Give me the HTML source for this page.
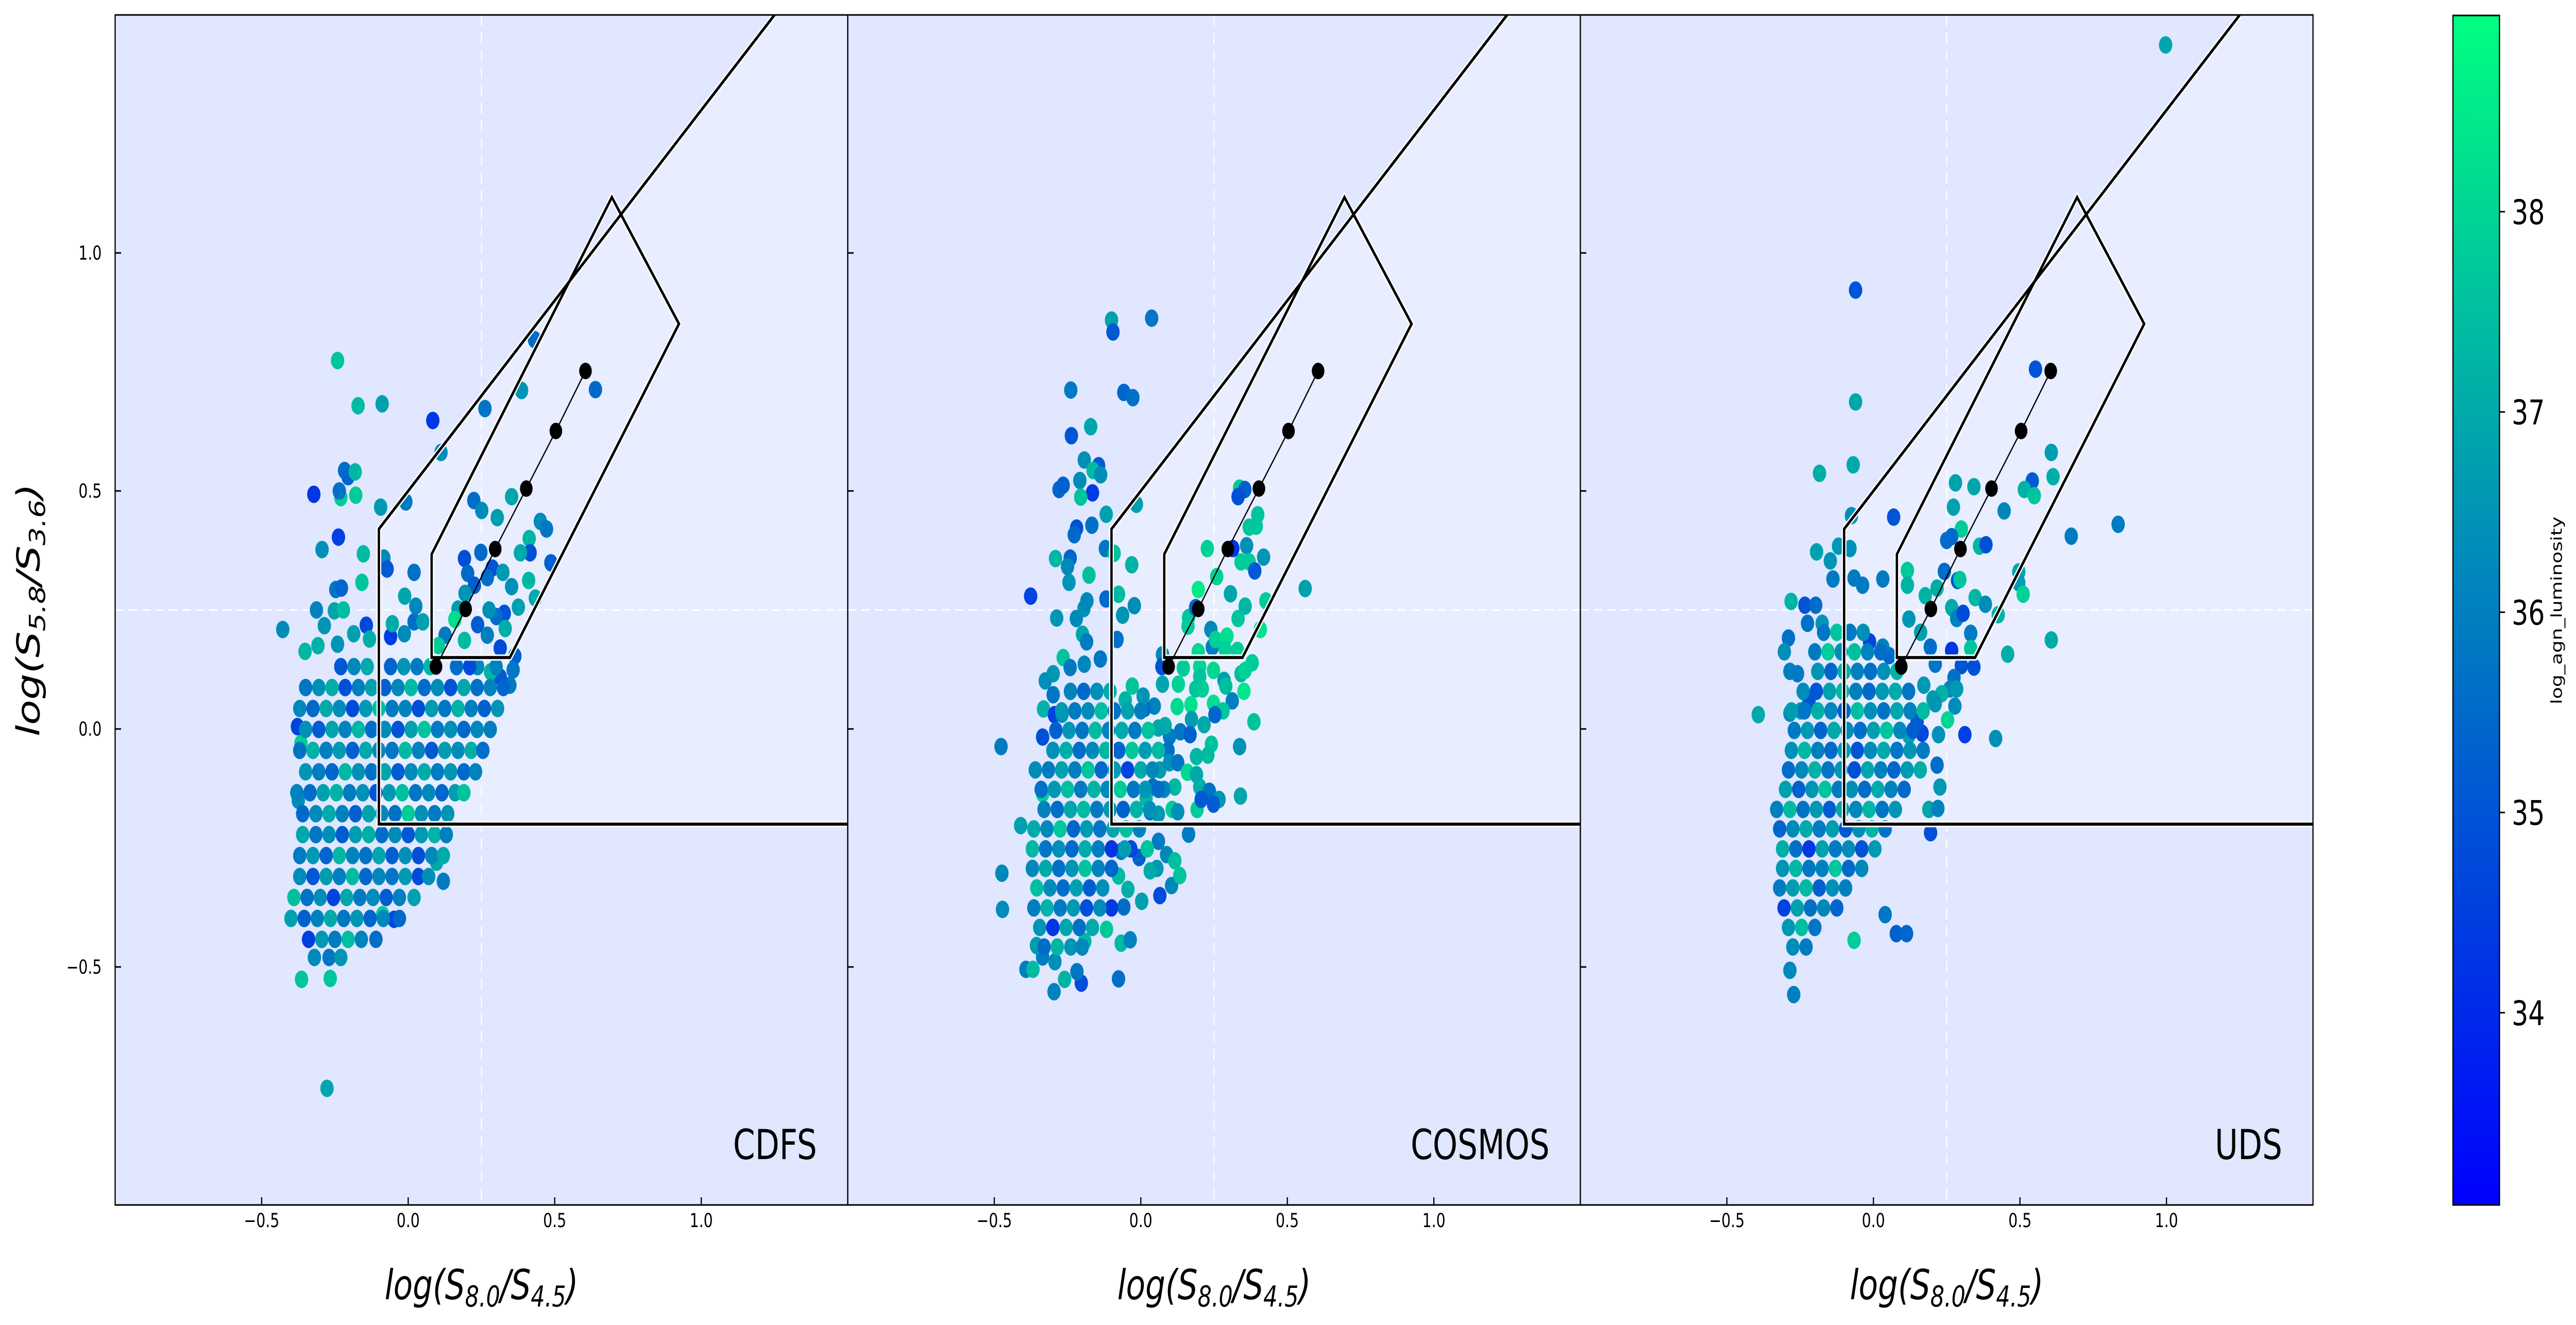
<!DOCTYPE html>
<html><head><meta charset="utf-8"><title>IRAC colour-colour diagram</title>
<style>
html,body{margin:0;padding:0;background:#fff;width:100%;height:100%;overflow:hidden;}
svg{display:block;position:fixed;left:0;top:0;width:100vw;height:100vh;font-family:"DejaVu Sans","Liberation Sans",sans-serif;}
</style></head>
<body>
<svg id="chart" xmlns="http://www.w3.org/2000/svg" viewBox="0 0 6533 2572" preserveAspectRatio="none">
<defs>
<linearGradient id="winter" x1="0" y1="1" x2="0" y2="0">
<stop offset="0" stop-color="rgb(0,0,255)"/><stop offset="1" stop-color="rgb(0,255,128)"/>
</linearGradient>
</defs>
<g id="panels"></g>
<g>
<rect x="6221" y="30" width="118" height="2309" fill="url(#winter)" stroke="#000" stroke-width="3"/>
<g id="cbticks"></g>
<text x="0" y="0" font-size="38" text-anchor="middle" transform="translate(6497,1185) rotate(-90)">log_agn_luminosity</text>
</g>
<text font-size="80" font-style="italic" text-anchor="middle" transform="translate(100,1184) rotate(-90)">log(S<tspan font-size="56" dy="14">5.8</tspan><tspan dy="-14">/S</tspan><tspan font-size="56" dy="14">3.6</tspan><tspan dy="-14">)</tspan></text>
</svg>
<script>
const xTicks = [-0.5, 0.0, 0.5, 1.0];
const xTickLabels = ["\u22120.5", "0.0", "0.5", "1.0"];
const yTicks = [1.0, 0.5, 0.0, -0.5];
const yTickLabels = ["1.0", "0.5", "0.0", "\u22120.5"];
const cbTicks = [34, 35, 36, 37, 38];
const cbRange = [33.04, 38.98];
const xRange = [-1, 1.5];
const yRange = [-1, 1.5];
const panelNames = ["CDFS", "COSMOS", "UDS"];
const lacyPoly = [[-0.1,-0.2],[-0.1,0.42],[1.25,1.5],[1.5,1.5],[1.5,-0.2]];
const donleyPoly = [[0.08,0.15],[0.08,0.367],[0.695,1.117],[0.924,0.851],[0.347,0.15]];
const trackX = [0.095,0.196,0.297,0.403,0.504,0.605];
const trackY = [0.131,0.252,0.378,0.505,0.626,0.752];

const cdfsData = [
[-0.241,0.774,37.6],[-0.171,0.679,37.4],[-0.089,0.683,36.8],[0.084,0.648,34.3],[0.112,0.581,36.3],[0.262,0.673,35.8],[0.387,0.711,36.5],[0.431,0.818,35.6],[0.639,0.713,35.5],[-0.217,0.543,35.6],[-0.205,0.53,35.4],[-0.181,0.54,37.3],[-0.322,0.493,34.3],[-0.23,0.486,37.8],[-0.235,0.5,35.7],[-0.179,0.491,37.8],[-0.094,0.466,36.6],[-0.008,0.477,35.9],[-0.238,0.403,34.5],[-0.294,0.377,36.4],[-0.153,0.368,37.4],[-0.158,0.308,37.6],[-0.083,0.359,36.2],[-0.072,0.336,35.1],[0.02,0.329,35.7],[-0.247,0.293,35.8],[-0.228,0.296,35.4],[-0.012,0.279,36.9],[-0.313,0.25,36.1],[-0.252,0.248,36.9],[-0.221,0.25,37.5],[-0.428,0.209,36.3],[-0.352,0.163,37.3],[-0.308,0.175,37.2],[-0.286,0.217,36.5],[-0.241,0.178,36.5],[-0.186,0.2,36.8],[-0.143,0.218,34.7],[-0.132,0.189,37.1],[-0.06,0.194,34.4],[-0.013,0.2,36.3],[-0.054,0.221,37.0],[0.02,0.225,35.6],[0.026,0.258,36.2],[0.05,0.225,36.8],
[0.224,0.48,35.6],[0.251,0.459,36.3],[0.304,0.444,36.7],[0.353,0.488,36.9],[0.451,0.436,36.3],[0.472,0.42,35.8],[0.413,0.4,37.3],[0.416,0.37,34.9],[0.383,0.37,37.0],[0.487,0.349,35.3],[0.411,0.312,37.3],[0.434,0.275,37.0],[0.192,0.358,34.9],[0.248,0.371,35.5],[0.287,0.338,35.0],[0.323,0.329,36.6],[0.353,0.299,36.4],[0.376,0.256,36.8],[0.203,0.327,35.5],[0.226,0.302,35.2],[0.27,0.318,35.6],[0.194,0.285,36.5],[0.328,0.243,35.0],[0.301,0.236,35.6],[0.276,0.25,36.4],[0.17,0.252,36.7],[0.159,0.23,38.2],[0.237,0.219,35.2],[0.27,0.197,36.0],[0.331,0.211,37.1],[0.314,0.17,34.8],[0.126,0.197,35.9],[0.103,0.175,37.8],[0.192,0.186,37.4],[0.364,0.153,35.3],[0.358,0.124,35.8],[0.347,0.092,35.9],[0.314,0.109,35.1],[0.281,0.12,37.2],[0.237,0.131,36.3],
[-0.364,-0.526,37.6],[-0.266,-0.524,37.6],[-0.277,-0.755,36.9],[-0.375,-0.15,36.3],[-0.366,-0.03,37.9],[-0.378,0.005,34.6],[0.12,-0.32,35.9],[0.097,-0.28,36.9],[-0.087,-0.39,37.8],[-0.048,-0.4,34.7],
[-0.23,0.131,35.1],[-0.185,0.131,36.2],[-0.14,0.131,37.0],[-0.06,0.131,35.4],[-0.015,0.131,36.5],[0.03,0.131,35.9],[0.075,0.131,37.3],[0.165,0.131,35.6],[0.21,0.131,34.8],[0.3,0.131,36.1],
[-0.35,0.087,35.8],[-0.305,0.087,36.4],[-0.26,0.087,37.1],[-0.215,0.087,34.9],[-0.17,0.087,36.0],[-0.125,0.087,36.8],[-0.08,0.087,35.3],[-0.035,0.087,36.2],[0.01,0.087,37.4],[0.055,0.087,35.6],[0.1,0.087,36.3],[0.145,0.087,35.0],[0.19,0.087,36.9],[0.235,0.087,35.7],[0.28,0.087,36.1],[0.325,0.087,35.4],
[-0.37,0.043,36.2],[-0.325,0.043,35.5],[-0.28,0.043,37.0],[-0.235,0.043,36.3],[-0.19,0.043,34.8],[-0.145,0.043,36.6],[-0.1,0.043,37.5],[-0.055,0.043,35.9],[-0.01,0.043,36.1],[0.035,0.043,34.9],[0.08,0.043,36.7],[0.125,0.043,35.8],[0.17,0.043,37.2],[0.215,0.043,36.0],[0.26,0.043,35.3],[0.305,0.043,36.5],
[-0.35,-0.001,36.4],[-0.305,-0.001,35.2],[-0.26,-0.001,36.9],[-0.215,-0.001,36.1],[-0.17,-0.001,37.3],[-0.125,-0.001,35.6],[-0.08,-0.001,36.3],[-0.035,-0.001,35.0],[0.01,-0.001,36.8],[0.055,-0.001,37.6],[0.1,-0.001,35.9],[0.145,-0.001,36.4],[0.19,-0.001,35.5],[0.235,-0.001,36.2],[0.28,-0.001,36.0],
[-0.37,-0.045,35.7],[-0.325,-0.045,37.2],[-0.28,-0.045,36.0],[-0.235,-0.045,36.6],[-0.19,-0.045,35.3],[-0.145,-0.045,37.0],[-0.1,-0.045,36.2],[-0.055,-0.045,35.8],[-0.01,-0.045,37.4],[0.035,-0.045,36.1],[0.08,-0.045,35.1],[0.125,-0.045,36.7],[0.17,-0.045,36.3],[0.215,-0.045,37.1],[0.255,-0.045,35.6],
[-0.35,-0.09,36.5],[-0.305,-0.09,36.0],[-0.26,-0.09,35.4],[-0.215,-0.09,37.3],[-0.17,-0.09,36.4],[-0.125,-0.09,35.7],[-0.08,-0.09,36.9],[-0.035,-0.09,35.2],[0.01,-0.09,36.3],[0.055,-0.09,37.0],[0.1,-0.09,35.9],[0.145,-0.09,36.5],[0.19,-0.09,35.5],[0.23,-0.09,36.1],
[-0.38,-0.134,36.1],[-0.335,-0.134,35.6],[-0.29,-0.134,36.8],[-0.245,-0.134,37.2],[-0.2,-0.134,35.9],[-0.155,-0.134,36.4],[-0.11,-0.134,35.0],[-0.065,-0.134,36.6],[-0.02,-0.134,37.5],[0.025,-0.134,35.8],[0.07,-0.134,36.2],[0.115,-0.134,35.4],[0.16,-0.134,36.7],[0.19,-0.134,37.6],
[-0.36,-0.178,35.5],[-0.315,-0.178,36.3],[-0.27,-0.178,37.0],[-0.225,-0.178,36.0],[-0.18,-0.178,35.3],[-0.135,-0.178,36.8],[-0.09,-0.178,36.2],[-0.045,-0.178,35.7],[0.0,-0.178,37.8],[0.045,-0.178,36.4],[0.09,-0.178,35.9],[0.135,-0.178,36.5],
[-0.36,-0.222,36.9],[-0.315,-0.222,35.8],[-0.27,-0.222,36.4],[-0.225,-0.222,35.2],[-0.18,-0.222,36.7],[-0.135,-0.222,37.1],[-0.09,-0.222,35.6],[-0.045,-0.222,36.3],[0.0,-0.222,35.1],[0.045,-0.222,36.6],[0.09,-0.222,37.2],[0.13,-0.222,36.0],
[-0.37,-0.266,35.9],[-0.325,-0.266,36.6],[-0.28,-0.266,35.4],[-0.235,-0.266,37.3],[-0.19,-0.266,36.1],[-0.145,-0.266,35.7],[-0.1,-0.266,36.9],[-0.055,-0.266,35.3],[-0.01,-0.266,36.4],[0.035,-0.266,34.9],[0.08,-0.266,36.2],[0.12,-0.266,37.0],
[-0.37,-0.31,36.3],[-0.325,-0.31,35.1],[-0.28,-0.31,36.7],[-0.235,-0.31,36.0],[-0.19,-0.31,37.4],[-0.145,-0.31,35.5],[-0.1,-0.31,36.2],[-0.055,-0.31,35.8],[-0.01,-0.31,36.6],[0.035,-0.31,34.8],[0.07,-0.31,36.4],
[-0.39,-0.354,37.5],[-0.345,-0.354,35.7],[-0.3,-0.354,36.4],[-0.255,-0.354,34.6],[-0.21,-0.354,36.9],[-0.165,-0.354,35.9],[-0.12,-0.354,36.3],[-0.075,-0.354,35.2],[-0.03,-0.354,36.0],[0.02,-0.354,36.8],
[-0.4,-0.398,36.8],[-0.355,-0.398,35.3],[-0.31,-0.398,36.1],[-0.265,-0.398,37.0],[-0.22,-0.398,35.8],[-0.175,-0.398,36.5],[-0.13,-0.398,35.4],[-0.085,-0.398,36.2],[-0.03,-0.398,35.5],
[-0.34,-0.442,34.5],[-0.295,-0.442,36.6],[-0.25,-0.442,35.9],[-0.205,-0.442,37.5],[-0.16,-0.442,36.1],[-0.11,-0.442,35.6],
[-0.32,-0.48,36.2],[-0.27,-0.48,35.8],[-0.23,-0.48,36.5]
];

const cosmosData = [
[-0.1,0.859,36.8],[-0.095,0.834,35.1],[0.037,0.863,35.8],[-0.239,0.712,35.9],[-0.058,0.707,35.4],[-0.027,0.696,35.7],[-0.237,0.616,35.0],[-0.171,0.635,36.9],[-0.193,0.565,36.4],[-0.144,0.553,35.2],[-0.163,0.543,37.4],[-0.137,0.534,36.4],[-0.279,0.503,35.4],[-0.265,0.512,35.3],[-0.208,0.522,36.3],[-0.165,0.496,34.4],[-0.205,0.487,37.6],[-0.015,0.472,36.8],[-0.118,0.451,36.8],[-0.219,0.422,34.9],[-0.227,0.408,35.5],[-0.167,0.428,35.7],[-0.291,0.358,37.3],[-0.241,0.359,35.4],[-0.25,0.341,36.2],[-0.245,0.308,36.5],[-0.177,0.323,37.5],[-0.121,0.379,35.8],[-0.091,0.369,37.6],[-0.031,0.345,37.2],[-0.376,0.279,34.6],[-0.287,0.233,36.5],[-0.22,0.232,36.2],[-0.194,0.253,36.4],[-0.184,0.269,36.2],[-0.119,0.273,35.5],[-0.076,0.283,37.4],[-0.062,0.239,36.5],[-0.022,0.259,36.3],[-0.199,0.199,36.9],[-0.185,0.183,35.9],[-0.081,0.188,35.7],[-0.138,0.147,35.8],[-0.265,0.15,37.6],[-0.299,0.116,36.6],[-0.326,0.101,36.4],[-0.193,0.136,36.2],[-0.241,0.129,35.9],
[0.337,0.506,37.8],[0.355,0.503,35.3],[0.332,0.488,34.9],[0.399,0.45,37.6],[0.37,0.424,37.6],[0.394,0.426,37.7],[0.361,0.385,36.4],[0.419,0.361,36.5],[0.342,0.351,37.8],[0.37,0.351,37.8],[0.389,0.332,35.1],[0.314,0.379,34.3],[0.227,0.379,37.9],[0.259,0.32,37.9],[0.196,0.293,38.5],[0.306,0.284,36.9],[0.356,0.258,37.3],[0.332,0.232,37.6],[0.427,0.269,37.8],[0.408,0.209,38.3],[0.561,0.295,36.8],[0.163,0.234,37.6],[0.161,0.216,37.8],[0.187,0.255,35.4],[0.239,0.209,36.2],[0.244,0.172,35.9],[0.255,0.188,37.9],[0.294,0.195,38.2],[0.288,0.167,37.9],[0.33,0.165,37.8],[0.196,0.162,38.0],
[0.074,0.156,36.2],[0.072,0.131,35.0],[0.145,0.128,37.8],[0.074,0.094,36.9],[0.128,0.094,37.9],[0.201,0.131,38.0],[0.201,0.11,37.6],[0.248,0.123,38.1],[0.284,0.102,36.8],[0.342,0.116,37.4],[0.38,0.139,37.8],[0.356,0.123,37.9],[0.187,0.084,37.6],[0.21,0.084,37.8],[0.29,0.09,37.5],[0.352,0.079,38.4],[0.312,0.059,36.0],[0.248,0.054,38.2],[0.281,0.038,37.7],[0.253,0.03,35.4],[0.171,0.051,38.3],[0.124,0.047,38.1],[0.046,0.048,36.1],[0.013,0.043,35.6],[0.008,0.069,36.5],[-0.053,0.061,37.2],[-0.029,0.09,37.6],[0.173,0.02,36.7],[0.216,0.009,37.0],[0.386,0.015,37.6],[0.135,-0.006,35.8],[0.168,-0.012,35.3],[0.241,-0.032,37.6],[0.229,-0.055,37.4],[0.19,-0.058,37.3],[0.337,-0.037,36.4],[0.098,-0.016,35.9],[0.083,0.007,37.1],[0.06,0.002,36.9],[0.093,-0.045,35.6],[0.065,-0.086,36.7],[0.098,-0.071,36.4],[0.126,-0.071,35.8],[0.159,-0.091,38.1],[0.19,-0.096,37.0],[0.201,-0.122,37.1],[0.234,-0.131,35.7],[0.267,-0.148,36.5],[0.248,-0.158,35.2],[0.192,-0.169,37.8],[0.206,-0.148,35.1],[0.34,-0.141,36.9],[0.116,-0.122,37.3],[0.079,-0.127,36.2],[0.041,-0.122,35.6],[0.018,-0.145,37.3],[0.032,-0.174,35.8],[0.06,-0.179,36.6],[0.107,-0.169,37.8],[0.126,-0.174,36.4],[0.163,-0.221,35.9],[0.06,-0.236,35.9],[0.088,-0.264,36.2],[0.116,-0.277,37.5],[0.055,-0.293,36.6],[0.032,-0.298,37.0],[0.105,-0.329,36.2],[0.133,-0.308,37.6],[0.003,-0.362,36.8],[0.065,-0.35,34.8],[-0.044,-0.337,37.1],[-0.058,-0.374,35.6],[-0.006,-0.27,35.3],[-0.067,-0.257,36.0],[-0.034,-0.252,34.7],[0.022,-0.252,37.6],[-0.076,-0.309,37.4],[-0.1,-0.376,34.4],[-0.117,-0.421,37.7],[-0.076,-0.525,35.6],[-0.067,-0.45,37.3],[-0.036,-0.443,36.1],[-0.203,-0.534,34.8],[-0.218,-0.51,35.8],[-0.26,-0.526,37.2],[-0.296,-0.552,36.1],[-0.392,-0.505,36.0],[-0.368,-0.505,37.4],[-0.335,-0.479,35.9],[-0.293,-0.489,36.4],[-0.356,-0.455,36.7],[-0.191,-0.446,37.4],[-0.239,-0.458,36.5],[-0.472,-0.379,36.3],[-0.474,-0.303,36.2],[-0.477,-0.037,35.9],[-0.41,-0.203,36.8],[-0.335,-0.136,37.9],[-0.335,-0.017,34.9],[-0.332,0.042,37.2],[-0.299,0.072,35.8],[-0.295,0.03,34.6],[-0.269,0.031,36.3],
[-0.24,0.079,36.1],[-0.195,0.079,35.5],[-0.15,0.079,36.4],[-0.105,0.079,37.0],
[-0.27,0.038,36.6],[-0.225,0.038,35.9],[-0.18,0.038,36.3],[-0.135,0.038,37.5],[-0.09,0.038,35.7],[-0.045,0.038,36.8],[0.0,0.038,36.0],
[-0.29,-0.003,35.3],[-0.245,-0.003,36.5],[-0.2,-0.003,35.8],[-0.155,-0.003,37.4],[-0.11,-0.003,36.1],[-0.065,-0.003,37.0],[-0.02,-0.003,35.9],[0.025,-0.003,37.6],
[-0.3,-0.045,36.4],[-0.255,-0.045,37.1],[-0.21,-0.045,35.6],[-0.165,-0.045,36.2],[-0.12,-0.045,37.3],[-0.075,-0.045,35.4],[-0.03,-0.045,37.7],[0.015,-0.045,36.7],[0.06,-0.045,37.4],
[-0.36,-0.086,36.3],[-0.315,-0.086,35.9],[-0.27,-0.086,36.8],[-0.225,-0.086,36.0],[-0.18,-0.086,37.6],[-0.135,-0.086,35.5],[-0.09,-0.086,36.7],[-0.045,-0.086,34.6],[0.0,-0.086,37.0],[0.04,-0.086,36.2],
[-0.34,-0.127,35.7],[-0.295,-0.127,36.6],[-0.25,-0.127,37.5],[-0.205,-0.127,35.9],[-0.16,-0.127,37.2],[-0.115,-0.127,36.3],[-0.07,-0.127,37.8],[-0.025,-0.127,35.8],[0.015,-0.127,36.5],[0.06,-0.127,35.6],
[-0.33,-0.169,36.1],[-0.285,-0.169,35.6],[-0.24,-0.169,36.9],[-0.195,-0.169,37.4],[-0.15,-0.169,35.9],[-0.105,-0.169,36.6],[-0.06,-0.169,35.3],[-0.015,-0.169,37.2],[0.03,-0.169,36.4],
[-0.365,-0.21,37.0],[-0.32,-0.21,36.2],[-0.275,-0.21,37.7],[-0.23,-0.21,35.4],[-0.185,-0.21,36.6],[-0.14,-0.21,35.8],[-0.095,-0.21,36.9],[-0.05,-0.21,37.5],[-0.005,-0.21,36.1],
[-0.37,-0.252,37.3],[-0.325,-0.252,35.8],[-0.28,-0.252,36.4],[-0.235,-0.252,35.5],[-0.19,-0.252,37.1],[-0.145,-0.252,36.0],[-0.1,-0.252,34.3],[-0.055,-0.252,36.7],
[-0.37,-0.293,36.2],[-0.325,-0.293,37.0],[-0.28,-0.293,35.7],[-0.235,-0.293,36.5],[-0.19,-0.293,37.6],[-0.145,-0.293,36.1],[-0.1,-0.293,35.4],
[-0.355,-0.334,37.5],[-0.31,-0.334,36.3],[-0.265,-0.334,35.6],[-0.22,-0.334,36.8],[-0.175,-0.334,35.2],[-0.13,-0.334,36.4],
[-0.365,-0.376,36.0],[-0.32,-0.376,37.2],[-0.275,-0.376,35.9],[-0.23,-0.376,36.6],[-0.185,-0.376,34.9],[-0.14,-0.376,36.3],
[-0.345,-0.417,36.5],[-0.3,-0.417,34.3],[-0.255,-0.417,36.9],[-0.21,-0.417,35.7],[-0.165,-0.417,37.0],
[-0.33,-0.458,35.6],[-0.285,-0.458,37.3],[-0.2,-0.458,36.2]
];

const udsData = [
[-0.061,0.922,35.0],[-0.061,0.687,36.9],[-0.184,0.537,37.1],[-0.069,0.555,37.0],[-0.075,0.448,36.4],[0.069,0.445,35.0],[-0.194,0.372,36.8],[-0.147,0.353,36.5],[-0.119,0.384,36.6],[-0.08,0.379,36.4],[-0.138,0.315,35.9],[-0.066,0.317,35.9],[-0.037,0.302,35.9],[0.032,0.315,35.9],[-0.281,0.268,37.2],[-0.234,0.26,35.0],[-0.197,0.26,35.6],[-0.225,0.222,35.7],[-0.175,0.222,36.5],[-0.29,0.191,35.7],[-0.304,0.162,36.4],[-0.285,0.121,36.0],[-0.259,0.116,35.9],[-0.393,0.03,37.0],[-0.285,0.033,36.3],[-0.248,0.038,36.5],[-0.22,0.058,35.0],[0.997,1.437,36.9],[0.835,0.43,35.9],
[0.553,0.756,35.0],[0.607,0.581,36.7],[0.613,0.53,37.1],[0.542,0.521,35.2],[0.515,0.503,37.2],[0.549,0.49,37.6],[0.446,0.458,36.2],[0.343,0.509,36.9],[0.28,0.517,36.8],[0.273,0.466,36.8],[0.3,0.42,37.8],[0.362,0.384,37.3],[0.384,0.387,34.9],[0.25,0.396,35.6],[0.267,0.404,35.5],[0.675,0.405,35.9],[0.116,0.333,37.7],[0.116,0.302,37.2],[0.242,0.331,35.6],[0.287,0.312,35.0],[0.295,0.314,37.6],[0.217,0.296,37.1],[0.177,0.28,37.2],[0.347,0.276,37.3],[0.382,0.262,36.3],[0.496,0.33,36.9],[0.496,0.307,36.7],[0.511,0.283,37.9],[0.426,0.24,37.2],[0.267,0.255,37.0],[0.284,0.232,36.1],[0.306,0.243,34.8],[0.121,0.231,36.5],[0.161,0.203,36.8],[0.194,0.172,35.6],[0.332,0.201,35.9],[0.267,0.165,34.3],[0.332,0.169,37.6],[0.607,0.187,37.0],[0.458,0.157,37.1],[0.211,0.136,35.8],[0.3,0.133,35.0],[0.343,0.13,34.9],[0.054,0.154,35.5],[0.032,0.172,36.1],[-0.013,0.183,34.7],
[0.275,0.108,35.7],[0.261,0.084,36.2],[0.284,0.084,36.6],[0.278,0.048,36.3],[0.233,0.074,37.2],[0.203,0.063,36.7],[0.172,0.092,36.6],[0.211,0.053,36.5],[0.253,0.019,38.0],[0.222,-0.012,36.4],[0.166,-0.009,34.7],[0.149,0.015,35.1],[0.121,-0.014,36.8],[0.312,-0.012,34.5],[0.417,-0.02,36.4],[0.217,-0.076,35.6],[0.227,-0.122,36.6],[0.189,-0.169,36.9],[0.22,-0.167,36.1],[0.195,-0.218,34.9],
[-0.285,-0.507,36.2],[-0.272,-0.558,36.0],[-0.066,-0.444,37.8],[0.04,-0.39,35.8],[0.078,-0.43,35.3],[0.113,-0.43,35.4],
[-0.17,0.203,35.8],[-0.125,0.203,37.6],[-0.08,0.203,35.9],[-0.035,0.203,36.4],
[-0.2,0.162,35.9],[-0.155,0.162,37.8],[-0.11,0.162,36.3],[-0.065,0.162,37.5],[-0.02,0.162,36.1],[0.025,0.162,35.6],
[-0.19,0.121,36.5],[-0.145,0.121,35.4],[-0.1,0.121,37.1],[-0.055,0.121,36.0],[-0.01,0.121,35.7],[0.035,0.121,36.4],[0.08,0.121,37.2],
[-0.24,0.079,36.3],[-0.195,0.079,35.1],[-0.15,0.079,36.8],[-0.105,0.079,37.3],[-0.06,0.079,36.0],[-0.015,0.079,35.5],[0.03,0.079,36.6],[0.075,0.079,37.0],[0.12,0.079,35.8],
[-0.28,0.038,36.7],[-0.235,0.038,35.8],[-0.19,0.038,37.1],[-0.145,0.038,36.2],[-0.1,0.038,35.3],[-0.055,0.038,37.5],[-0.01,0.038,36.4],[0.035,0.038,35.7],[0.08,0.038,36.9],[0.125,0.038,36.1],[0.17,0.038,37.4],
[-0.27,-0.003,35.9],[-0.225,-0.003,36.6],[-0.18,-0.003,35.4],[-0.135,-0.003,37.0],[-0.09,-0.003,36.3],[-0.045,-0.003,35.6],[0.0,-0.003,36.8],[0.045,-0.003,37.6],[0.09,-0.003,36.2],[0.135,-0.003,35.2],
[-0.28,-0.045,36.4],[-0.235,-0.045,37.3],[-0.19,-0.045,36.0],[-0.145,-0.045,35.5],[-0.1,-0.045,36.7],[-0.055,-0.045,35.0],[-0.01,-0.045,36.3],[0.035,-0.045,37.0],[0.08,-0.045,35.8],[0.125,-0.045,36.5],[0.17,-0.045,35.9],
[-0.29,-0.086,35.6],[-0.245,-0.086,36.2],[-0.2,-0.086,37.2],[-0.155,-0.086,35.8],[-0.11,-0.086,36.5],[-0.065,-0.086,34.9],[-0.02,-0.086,36.9],[0.025,-0.086,36.0],[0.07,-0.086,35.4],[0.115,-0.086,36.6],[0.16,-0.086,37.1],
[-0.3,-0.127,36.8],[-0.255,-0.127,35.3],[-0.21,-0.127,36.5],[-0.165,-0.127,37.6],[-0.12,-0.127,35.9],[-0.075,-0.127,36.4],[-0.03,-0.127,35.6],[0.015,-0.127,37.0],[0.06,-0.127,36.1],[0.105,-0.127,35.5],
[-0.33,-0.169,36.0],[-0.285,-0.169,37.4],[-0.24,-0.169,35.7],[-0.195,-0.169,36.6],[-0.15,-0.169,35.2],[-0.105,-0.169,36.9],[-0.06,-0.169,36.2],[-0.015,-0.169,37.3],[0.03,-0.169,35.8],[0.075,-0.169,36.5],
[-0.32,-0.21,35.4],[-0.275,-0.21,36.3],[-0.23,-0.21,37.0],[-0.185,-0.21,35.9],[-0.14,-0.21,36.7],[-0.095,-0.21,35.1],[-0.05,-0.21,36.4],[-0.005,-0.21,37.2],[0.04,-0.21,35.7],
[-0.31,-0.252,37.1],[-0.265,-0.252,35.6],[-0.22,-0.252,34.4],[-0.175,-0.252,36.8],[-0.13,-0.252,35.9],[-0.085,-0.252,36.3],[-0.04,-0.252,35.0],[0.005,-0.252,36.6],
[-0.31,-0.293,36.5],[-0.265,-0.293,37.3],[-0.22,-0.293,35.8],[-0.175,-0.293,36.1],[-0.13,-0.293,37.7],[-0.085,-0.293,35.5],[-0.04,-0.293,36.2],
[-0.32,-0.334,35.9],[-0.275,-0.334,36.7],[-0.23,-0.334,37.4],[-0.185,-0.334,35.3],[-0.14,-0.334,36.4],[-0.095,-0.334,36.0],
[-0.305,-0.376,34.6],[-0.26,-0.376,36.8],[-0.215,-0.376,35.7],[-0.17,-0.376,36.2],[-0.125,-0.376,35.4],
[-0.29,-0.417,36.6],[-0.245,-0.417,37.5],[-0.2,-0.417,35.8],
[-0.275,-0.458,36.3],[-0.23,-0.458,35.9]
];

const panelData = [cdfsData, cosmosData, udsData];
const NS = "http://www.w3.org/2000/svg";
const panelLeft = [292, 2150, 4008];
const PW = 1858, PT = 29, PH = 2310;

function mk(tag, attrs, parent){
  const e = document.createElementNS(NS, tag);
  for (const k in attrs) e.setAttribute(k, attrs[k]);
  if (parent) parent.appendChild(e);
  return e;
}
function lumColor(l){
  let t = (l - cbRange[0]) / (cbRange[1] - cbRange[0]);
  t = Math.max(0, Math.min(1, t));
  return "rgb(0," + Math.round(255*t) + "," + Math.round(255*(1-0.5*t)) + ")";
}
const root = document.getElementById("panels");

panelNames.forEach(function(name, i){
  const L = panelLeft[i];
  const sx = function(x){ return L + (x - xRange[0]) / (xRange[1] - xRange[0]) * PW; };
  const sy = function(y){ return PT + (yRange[1] - y) / (yRange[1] - yRange[0]) * PH; };
  const g = mk("g", {}, root);
  
  
  const clipId = "clip" + i;
  const cp = mk("clipPath", {id: clipId}, g);
  mk("rect", {x: L, y: PT, width: PW, height: PH}, cp);
  const bg = mk("rect", {x: L, y: PT, width: PW, height: PH, fill: "#e0e7ff"}, g);
  
  
  const inner = mk("g", {"clip-path": "url(#" + clipId + ")"}, g);
  const lacyFill = mk("polygon", {points: lacyPoly.map(function(p){return sx(p[0]) + "," + sy(p[1]);}).join(" "), fill: "#e8eeff"}, inner);
  
  
  const vline = mk("line", {x1: sx(0.25), x2: sx(0.25), y1: PT, y2: PT + PH, stroke: "#fff", "stroke-width": 3, "stroke-dasharray": "22 12"}, inner);
  
  
  const hline = mk("line", {x1: L, x2: L + PW, y1: sy(0.25), y2: sy(0.25), stroke: "#fff", "stroke-width": 3, "stroke-dasharray": "22 12"}, inner);
  
  
  const pts = mk("g", {}, inner);
  
  
  panelData[i].forEach(function(d){
    const c = mk("circle", {cx: sx(d[0]).toFixed(1), cy: sy(d[1]).toFixed(1), r: 17, fill: lumColor(d[2])}, pts);
    
    
  });
  const lacyPath = "M" + sx(lacyPoly[4][0]) + "," + sy(lacyPoly[4][1]) + " L" + sx(lacyPoly[0][0]) + "," + sy(lacyPoly[0][1]) + " L" + sx(lacyPoly[1][0]) + "," + sy(lacyPoly[1][1]) + " L" + sx(lacyPoly[2][0]) + "," + sy(lacyPoly[2][1]);
  const donleyPts = donleyPoly.map(function(p){return sx(p[0]) + "," + sy(p[1]);}).join(" ");
  mk("path", {d: lacyPath, fill: "none", stroke: "#fff", "stroke-width": 12, "stroke-linejoin": "miter"}, inner);
  mk("polygon", {points: donleyPts, fill: "none", stroke: "#fff", "stroke-width": 12}, inner);
  const lacyLine = mk("path", {d: lacyPath, fill: "none", stroke: "#000", "stroke-width": 6, "stroke-linejoin": "miter"}, inner);
  
  
  const donleyLine = mk("polygon", {points: donleyPts, fill: "none", stroke: "#000", "stroke-width": 6}, inner);
  
  
  const trk = mk("polyline", {points: trackX.map(function(x, k){return sx(x) + "," + sy(trackY[k]);}).join(" "), fill: "none", stroke: "#000", "stroke-width": 3}, inner);
  
  
  trackX.forEach(function(x, k){
    const m = mk("circle", {cx: sx(x), cy: sy(trackY[k]), r: 16, fill: "#000"}, inner);
    
    
  });
  const lab = mk("text", {x: L + PW - 78, y: 2250, "font-size": 80, "text-anchor": "end", fill: "#000"}, g);
  lab.textContent = name;
  
  
  const frame = mk("rect", {x: L, y: PT, width: PW, height: PH, fill: "none", stroke: "#000", "stroke-width": 3}, g);
  
  
  xTicks.forEach(function(t, k){
    const tk = mk("line", {x1: sx(t), x2: sx(t), y1: PT + PH, y2: PT + PH - 15, stroke: "#000", "stroke-width": 3}, g);
    
    
    const tl = mk("text", {x: sx(t), y: PT + PH + 43, "font-size": 37, "text-anchor": "middle"}, g);
    tl.textContent = xTickLabels[k];
    
    
  });
  yTicks.forEach(function(t, k){
    const tk = mk("line", {x1: L, x2: L + 15, y1: sy(t), y2: sy(t), stroke: "#000", "stroke-width": 3}, g);
    
    
    if (i === 0) {
      const tl = mk("text", {x: L - 34, y: sy(t) + 13, "font-size": 37, "text-anchor": "end"}, g);
      tl.textContent = yTickLabels[k];
      
      
    }
  });
  const xt = mk("text", {x: L + PW / 2, y: 2522, "font-size": 80, "font-style": "italic", "text-anchor": "middle"}, g);
  xt.innerHTML = 'log(S<tspan font-size="56" dy="14">8.0</tspan><tspan dy="-14">/S</tspan><tspan font-size="56" dy="14">4.5</tspan><tspan dy="-14">)</tspan>';
  
  
});

const cbg = document.getElementById("cbticks");
cbTicks.forEach(function(t){
  const y = 2339 - (t - cbRange[0]) / (cbRange[1] - cbRange[0]) * 2309;
  const tk = mk("line", {x1: 6339, x2: 6353, y1: y, y2: y, stroke: "#000", "stroke-width": 3}, cbg);
  
  
  const tl = mk("text", {x: 6370, y: y + 24, "font-size": 66}, cbg);
  tl.textContent = String(t);
  
  
});
</script>
</body></html>
